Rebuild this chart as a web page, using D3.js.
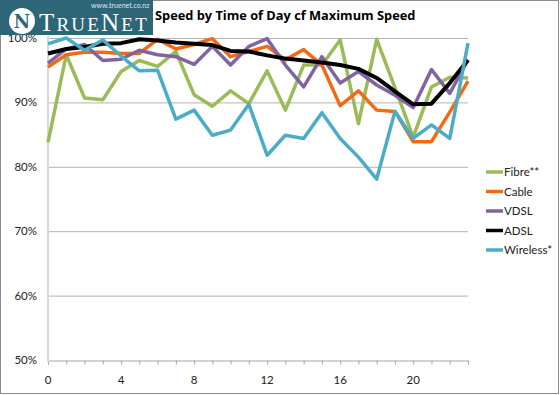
<!DOCTYPE html>
<html>
<head>
<meta charset="utf-8">
<script src="https://cdn.jsdelivr.net/npm/d3@7"></script>
<style>
body { margin: 0; background: #fff; }
svg { display: block; font-family: Lato, "Open Sans", sans-serif; }
</style>
</head>
<body>
<svg width="560" height="395"></svg>
<script>
var hours = d3.range(0, 24);
var xTicks = [0, 4, 8, 12, 16, 20];
var yTicks = [50, 60, 70, 80, 90, 100];

var seriesNames = ["Fibre**", "Cable", "VDSL", "ADSL", "Wireless*"];
var seriesColors = ["#9bbb59", "#f36a16", "#8064a2", "#000000", "#4bacc6"];

var fibre = [83.8, 97.4, 90.7, 90.4, 94.8, 96.5, 95.6, 97.9, 91.2, 89.4, 91.8, 89.8, 94.9, 88.8, 95.8, 95.8, 99.7, 86.7, 99.8, 92.3, 84.6, 92.4, 93.9, 93.8];
var cable = [95.5, 97.4, 97.8, 97.8, 97.6, 97.6, 99.8, 98.3, 99.0, 99.9, 97.1, 97.9, 98.7, 96.6, 98.2, 95.8, 89.5, 91.8, 88.8, 88.6, 83.9, 83.9, 88.5, 93.3];
var vdsl = [96.1, 98.3, 99.0, 96.5, 96.7, 98.1, 97.4, 97.1, 95.9, 98.7, 95.8, 98.7, 99.9, 95.8, 92.4, 97.1, 93.0, 94.8, 92.7, 91.1, 89.2, 95.1, 91.4, 96.6];
var adsl = [97.6, 98.3, 98.6, 99.1, 99.2, 99.8, 99.6, 99.3, 99.1, 98.9, 98.0, 97.9, 97.3, 96.8, 96.5, 96.2, 95.8, 95.2, 93.8, 91.7, 89.7, 89.8, 93.0, 96.6];
var wireless = [99.1, 100.0, 98.1, 99.7, 97.2, 94.9, 95.0, 87.4, 88.8, 84.9, 85.7, 89.7, 81.8, 84.9, 84.4, 88.4, 84.4, 81.5, 78.1, 88.6, 84.4, 86.5, 84.4, 99.2];

var seriesValues = [fibre, cable, vdsl, adsl, wireless];

var svg = d3.select("svg");

// chart border
svg.append("rect")
    .attr("x", 0.5).attr("y", 0.5)
    .attr("width", 558).attr("height", 393)
    .attr("fill", "#fff")
    .attr("stroke", "#8c8c8c");

var x = d3.scaleLinear().domain([0, 23]).range([48, 468]);
var y = d3.scaleLinear().domain([50, 100]).range([360, 38]);

// gridlines
svg.append("g").selectAll("line")
    .data(yTicks.filter(function(d){ return d > 50; }))
    .enter().append("line")
    .attr("x1", 48).attr("x2", 468)
    .attr("y1", function(d){ return y(d) + 0.5; })
    .attr("y2", function(d){ return y(d) + 0.5; })
    .attr("stroke", "#b3b3b3");

// y labels
svg.append("g").selectAll("text")
    .data(yTicks)
    .enter().append("text")
    .attr("x", 37)
    .attr("y", function(d){ return y(d) + 4; })
    .attr("text-anchor", "end")
    .attr("font-size", 11.5)
    .attr("fill", "#222")
    .text(function(d){ return d + "%"; });

// x axis
var xAxis = d3.axisBottom(x)
    .tickValues(hours)
    .tickSize(4)
    .tickFormat("");
var gx = svg.append("g")
    .attr("transform", "translate(0," + (y(50) + 0.5) + ")")
    .call(xAxis);
gx.select(".domain").attr("stroke", "#a6a6a6");
gx.selectAll(".tick line").attr("stroke", "#a6a6a6");

svg.append("g").selectAll("text")
    .data(xTicks)
    .enter().append("text")
    .attr("x", function(d){ return x(d); })
    .attr("y", 384)
    .attr("text-anchor", "middle")
    .attr("font-size", 11.5)
    .attr("fill", "#222")
    .text(function(d){ return d; });

// y axis line
svg.append("line")
    .attr("x1", 48).attr("x2", 48)
    .attr("y1", 36).attr("y2", 362)
    .attr("stroke", "#d9d9d9")
    .attr("stroke-width", 2);

var line = d3.line()
    .x(function(d, i){ return x(hours[i]); })
    .y(function(d){ return y(d); });

svg.append("g").selectAll("path")
    .data(seriesValues)
    .enter().append("path")
    .attr("d", line)
    .attr("fill", "none")
    .attr("stroke", function(d, i){ return seriesColors[i]; })
    .attr("stroke-width", function(d, i){ return i == 3 ? 4 : 3.5; })
    .attr("stroke-linejoin", "round");

// legend
var legend = svg.append("g").selectAll("g")
    .data(seriesNames)
    .enter().append("g")
    .attr("transform", function(d, i){ return "translate(486," + (172 + i * 19.5) + ")"; });
legend.append("line")
    .attr("x1", 0).attr("x2", 17)
    .attr("stroke", function(d, i){ return seriesColors[i]; })
    .attr("stroke-width", 3.5);
legend.append("text")
    .attr("x", 18).attr("y", 4)
    .attr("font-size", 11.5)
    .attr("fill", "#222")
    .text(function(d){ return d; });

// logo
var logo = svg.append("g");
logo.append("rect")
    .attr("x", 0).attr("y", 0)
    .attr("width", 153).attr("height", 35)
    .attr("fill", "#2d6676");
logo.append("circle")
    .attr("cx", 22).attr("cy", 21).attr("r", 13)
    .attr("fill", "#fff");
logo.append("text")
    .attr("x", 22).attr("y", 28)
    .attr("text-anchor", "middle")
    .attr("font-family", "DejaVu Serif, serif")
    .attr("font-weight", "bold")
    .attr("font-size", 18)
    .attr("fill", "#2d6676")
    .text("N");
logo.append("text")
    .attr("x", 91).attr("y", 8)
    .attr("font-size", 7)
    .attr("fill", "#dfe9ec")
    .text("www.truenet.co.nz");
var brand = logo.append("text")
    .attr("x", 39).attr("y", 31)
    .attr("font-family", "Liberation Serif, serif")
    .attr("letter-spacing", 2.2)
    .attr("fill", "#fff");
brand.append("tspan").attr("font-size", 25).text("T");
brand.append("tspan").attr("font-size", 19).text("RUE");
brand.append("tspan").attr("font-size", 25).text("N");
brand.append("tspan").attr("font-size", 19).text("ET");

// title
svg.append("text")
    .attr("x", 155).attr("y", 20)
    .attr("font-family", "'Open Sans', sans-serif")
    .attr("font-size", 12.8)
    .attr("font-weight", "bold")
    .attr("fill", "#000")
    .text("Speed by Time of Day cf Maximum Speed");
</script>
</body>
</html>
